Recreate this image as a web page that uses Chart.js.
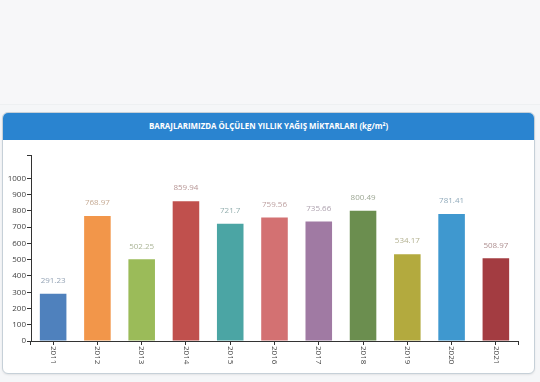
<!DOCTYPE html>
<html>
<head>
<meta charset="utf-8">
<script src="https://cdn.jsdelivr.net/npm/chart.js@4"></script>
<style>
  html, body { margin: 0; padding: 0; }
  body { width: 540px; height: 382px; background: #f5f6f8; position: relative; overflow: hidden; font-family: "Open Sans", sans-serif; }
  #top { position: absolute; left: 0; top: 0; width: 540px; height: 104px; background: #f7f7f9; border-bottom: 1px solid #eef0f2; }
  #card { position: absolute; left: 2px; top: 112px; width: 531px; height: 260px; background: #fff; border: 1px solid #c6d0d8; border-radius: 6px; overflow: hidden; box-shadow: 0 1px 2px rgba(0,0,0,0.08); }
  #head { height: 27px; background: #2a84d0; color: #fff; font-weight: 700; font-size: 7.9px; line-height: 27px; text-align: center; }
  #wrap { position: absolute; left: 0; top: 140px; width: 540px; height: 232px; }
</style>
</head>
<body>
<div id="top"></div>
<div id="card"><div id="head">BARAJLARIMIZDA ÖLÇÜLEN YILLIK YAĞIŞ MİKTARLARI (kg/m²)</div></div>
<div id="wrap"><canvas id="c" width="540" height="232"></canvas></div>
<script>
const years = ["2011","2012","2013","2014","2015","2016","2017","2018","2019","2020","2021"];
const rainfall = [291.23, 768.97, 502.25, 859.94, 721.7, 759.56, 735.66, 800.49, 534.17, 781.41, 508.97];
const yTicks = [0,100,200,300,400,500,600,700,800,900,1000];
const yMax = 1144;
const barColors = ["#4f81bd","#f2964a","#9bbb59","#c0504d","#4ba5a4","#d37172","#a07aa3","#6b8e4f","#b3aa3e","#3f98cf","#a33c41"];

function labelColor(hex) {
  const r = parseInt(hex.slice(1,3),16), g = parseInt(hex.slice(3,5),16), b = parseInt(hex.slice(5,7),16);
  const m = (c) => Math.round(0.3*c + 0.7*178);
  return `rgb(${m(r)},${m(g)},${m(b)})`;
}

const overlay = {
  id: 'overlay',
  afterDatasetsDraw(chart) {
    const ctx = chart.ctx;
    const meta = chart.getDatasetMeta(0);
    const xs = chart.scales.x;
    const area = chart.chartArea;
    ctx.save();
    ctx.font = '8px "Open Sans", sans-serif';
    ctx.textAlign = 'center';
    ctx.textBaseline = 'middle';
    meta.data.forEach((bar, i) => {
      ctx.fillStyle = labelColor(barColors[i]);
      ctx.fillText(String(rainfall[i]), bar.x, bar.y - 13);
    });
    ctx.strokeStyle = '#333';
    ctx.lineWidth = 1;
    ctx.beginPath();
    ctx.moveTo(Math.round(area.right) + 0.5, area.bottom);
    ctx.lineTo(Math.round(area.right) + 0.5, area.bottom + 4);
    ctx.moveTo(Math.round(area.left) - 0.5, area.bottom);
    ctx.lineTo(Math.round(area.left) - 0.5, area.bottom + 4);
    ctx.stroke();
    ctx.fillStyle = '#444';
    ctx.font = '8px "Open Sans", sans-serif';
    ctx.textAlign = 'left';
    ctx.textBaseline = 'middle';
    years.forEach((y, i) => {
      const x = xs.getPixelForTick(i);
      ctx.save();
      ctx.translate(x, area.bottom + 5);
      ctx.rotate(Math.PI / 2);
      ctx.fillText(y, 0, 0);
      ctx.restore();
    });
    ctx.restore();
  }
};

new Chart(document.getElementById('c'), {
  type: 'bar',
  data: {
    labels: years,
    datasets: [{
      data: rainfall,
      backgroundColor: barColors,
      borderWidth: 0,
      categoryPercentage: 1,
      barPercentage: 0.6
    }]
  },
  options: {
    responsive: false,
    devicePixelRatio: 1,
    animation: false,
    events: [],
    layout: { padding: { top: 15, right: 22, left: 0, bottom: 0 } },
    plugins: { legend: { display: false }, tooltip: { enabled: false }, title: { display: false } },
    scales: {
      x: {
        type: 'category',
        offset: true,
        afterFit(s) { s.height = 31; },
        grid: { display: true, drawOnChartArea: false, drawTicks: true, tickLength: 4, color: '#333', offset: false },
        border: { display: true, color: '#333', width: 1 },
        ticks: { display: false }
      },
      y: {
        min: 0,
        max: yMax,
        afterFit(s) { s.width = 31; },
        afterBuildTicks(s) { s.ticks = yTicks.map(v => ({ value: v })).concat([{ value: yMax }]); },
        grid: { display: true, drawOnChartArea: false, drawTicks: true, tickLength: 4, color: '#333' },
        border: { display: true, color: '#333', width: 1 },
        ticks: {
          padding: 1,
          color: '#444',
          font: { family: '"Open Sans", sans-serif', size: 8 },
          callback: (v) => (yTicks.includes(v) ? String(v) : '')
        }
      }
    }
  },
  plugins: [overlay]
});
</script>
</body>
</html>
